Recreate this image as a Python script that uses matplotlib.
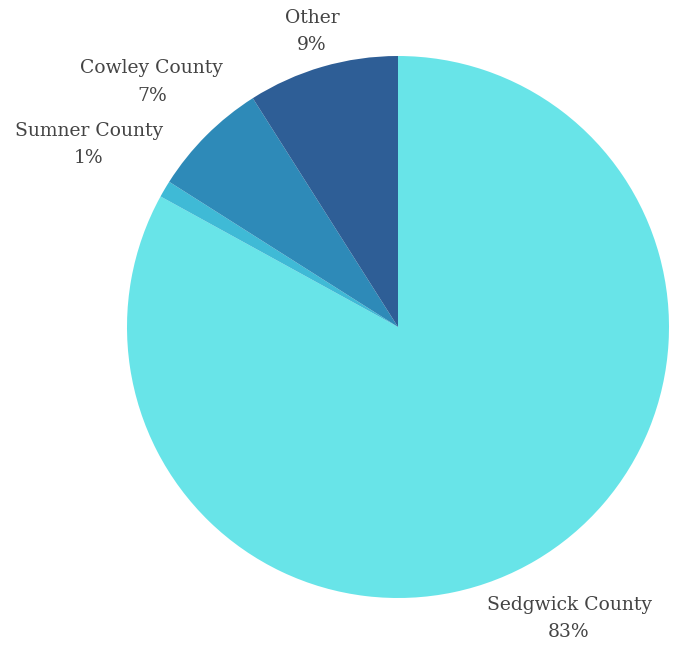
import numpy as np
import matplotlib.pyplot as plt

labels = ["Sedgwick County", "Sumner County", "Cowley County", "Other"]
shares = [83, 1, 7, 9]
colors = ["#68e4e8", "#3fbad6", "#2e8ab8", "#2e5e96"]

# label positions in pie units (radius = 1)
label_pos = [(0.631, -1.074), (-1.140, 0.672), (-0.908, 0.904), (-0.317, 1.092)]

fig = plt.figure(figsize=(6.74, 6.46), dpi=100)
ax = fig.add_axes([0, 0, 1, 1])

ax.pie(shares, colors=colors, startangle=90, counterclock=False,
       wedgeprops=dict(linewidth=0))

for name, val, (x, y) in zip(labels, shares, label_pos):
    ax.text(x, y, f"{name}\n{val}%", ha="center", va="center",
            fontsize=13.5, color="#444444", family="DejaVu Serif",
            linespacing=1.65)

ax.set_aspect("auto")
ax.set_xlim(-398 / 271, (674 - 398) / 271)
ax.set_ylim(-(646 - 327) / 271, 327 / 271)
ax.axis("off")

fig.savefig("out.png", dpi=100)
